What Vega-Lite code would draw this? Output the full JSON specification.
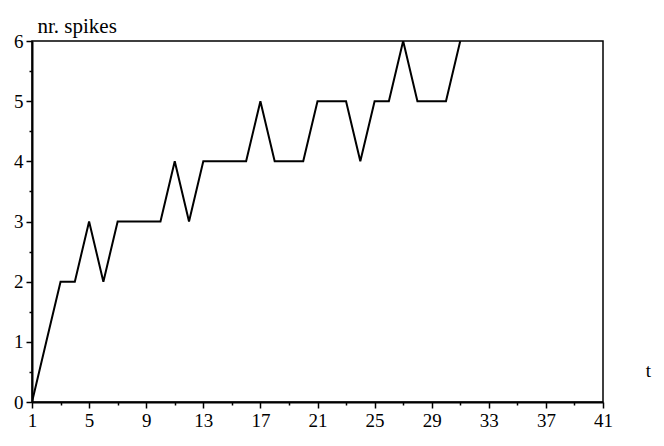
{
  "$schema": "https://vega.github.io/schema/vega-lite/v6.json",
  "width": 571,
  "height": 361,
  "autosize": {"type": "none"},
  "padding": {"left": 32, "top": 41, "right": 61, "bottom": 44},
  "background": "white",
  "config": {
    "view": {"stroke": "black", "strokeWidth": 1.5},
    "axis": {
      "labelColor": "black",
      "titleFontWeight": "normal",
      "titleColor": "black",
      "domainColor": "black",
      "domainWidth": 2,
      "tickColor": "black",
      "tickWidth": 1.5,
      "grid": false
    }
  },
  "data": {
    "values": [
      {"t": 1, "n": 0}, {"t": 2, "n": 1}, {"t": 3, "n": 2}, {"t": 4, "n": 2},
      {"t": 5, "n": 3}, {"t": 6, "n": 2}, {"t": 7, "n": 3}, {"t": 8, "n": 3},
      {"t": 9, "n": 3}, {"t": 10, "n": 3}, {"t": 11, "n": 4}, {"t": 12, "n": 3},
      {"t": 13, "n": 4}, {"t": 14, "n": 4}, {"t": 15, "n": 4}, {"t": 16, "n": 4},
      {"t": 17, "n": 5}, {"t": 18, "n": 4}, {"t": 19, "n": 4}, {"t": 20, "n": 4},
      {"t": 21, "n": 5}, {"t": 22, "n": 5}, {"t": 23, "n": 5}, {"t": 24, "n": 4},
      {"t": 25, "n": 5}, {"t": 26, "n": 5}, {"t": 27, "n": 6}, {"t": 28, "n": 5},
      {"t": 29, "n": 5}, {"t": 30, "n": 5}, {"t": 31, "n": 6}
    ]
  },
  "mark": {"type": "line", "color": "black", "strokeWidth": 2, "clip": true},
  "encoding": {
    "x": {
      "field": "t",
      "type": "quantitative",
      "scale": {"domain": [1, 41], "nice": false, "zero": false},
      "axis": {
        "values": [1,3,5,7,9,11,13,15,17,19,21,23,25,27,29,31,33,35,37,39,41],
        "labelExpr": "(datum.value - 1) % 4 === 0 ? '' + datum.value : ''",
        "tickSize": {"condition": {"test": "(datum.value - 1) % 4 === 0", "value": 6}, "value": 3},
        "labelFont": "'Times New Roman', 'Liberation Serif', 'DejaVu Serif', serif",
        "labelFontSize": 19,
        "labelPadding": 3,
        "labelFlush": false,
        "labelOverlap": false,
        "title": "t",
        "titleFont": "'Times New Roman', 'Liberation Serif', 'DejaVu Serif', serif",
        "titleFontSize": 19,
        "titleX": 616,
        "titleY": -26,
        "titleAlign": "center",
        "titleBaseline": "alphabetic"
      }
    },
    "y": {
      "field": "n",
      "type": "quantitative",
      "scale": {"domain": [0, 6], "nice": false},
      "axis": {
        "values": [0,0.5,1,1.5,2,2.5,3,3.5,4,4.5,5,5.5,6],
        "labelExpr": "datum.value % 1 === 0 ? '' + datum.value : ''",
        "tickSize": {"condition": {"test": "datum.value % 1 === 0", "value": 6}, "value": 3},
        "labelFont": "'Times New Roman', 'Liberation Serif', 'DejaVu Serif', serif",
        "labelFontSize": 19,
        "labelPadding": 3,
        "labelFlush": false,
        "labelOverlap": false,
        "title": "nr. spikes",
        "titleFont": "'Times New Roman', 'Liberation Serif', 'DejaVu Serif', serif",
        "titleFontSize": 21,
        "titleAngle": 0,
        "titleX": 5,
        "titleY": -9,
        "titleAlign": "left",
        "titleBaseline": "alphabetic"
      }
    }
  }
}
